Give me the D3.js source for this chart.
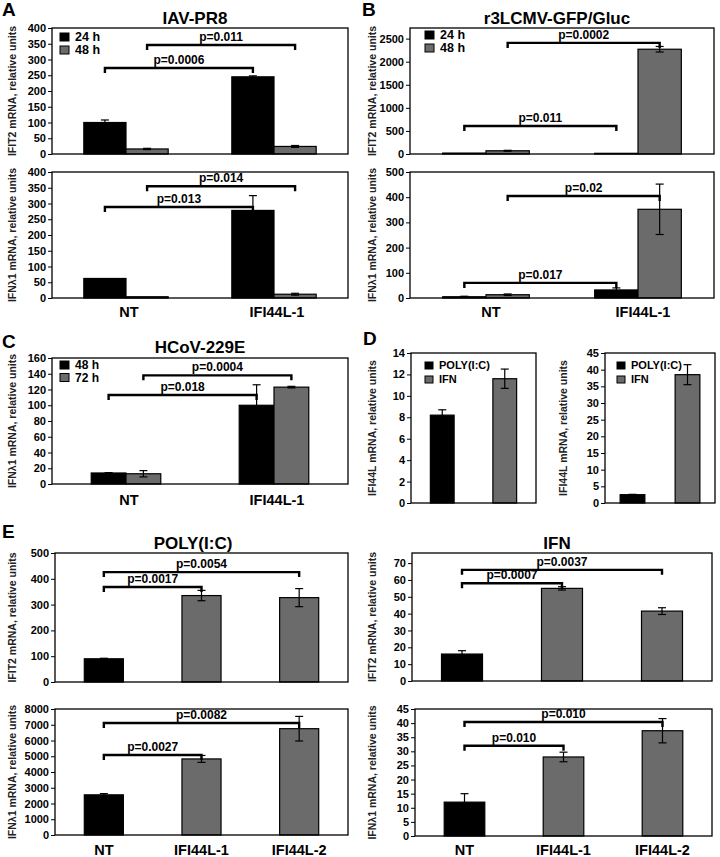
<!DOCTYPE html>
<html><head><meta charset="utf-8">
<script src="https://cdn.jsdelivr.net/npm/d3@7"></script>
<style>body{margin:0;background:#fff} svg text{font-family:"Liberation Sans",Arial,sans-serif;font-weight:bold}</style>
</head><body><svg id="c" width="720" height="857"></svg>
<script>
// ---------- data ----------
const catsTwo = ["NT", "IFI44L-1"];
const catsThree = ["NT", "IFI44L-1", "IFI44L-2"];
const seriesAB = ["24 h", "48 h"];
const seriesC = ["48 h", "72 h"];
const seriesD = ["POLY(I:C)", "IFN"];

// Panel A (IAV-PR8)
const aIfit2_24 = [100, 245], aIfit2_24Err = [8, 3];
const aIfit2_48 = [16, 24], aIfit2_48Err = [2, 3];
const aIfn_24 = [62, 278], aIfn_24Err = [0, 47];
const aIfn_48 = [4, 12], aIfn_48Err = [0, 3];
const aIfit2Brackets = [{p: "p=0.0006", from: [0, 0], to: [1, 0], level: 273}, {p: "p=0.011", from: [0, 1], to: [1, 1], level: 346}];
const aIfnBrackets = [{p: "p=0.013", from: [0, 0], to: [1, 0], level: 289}, {p: "p=0.014", from: [0, 1], to: [1, 1], level: 355}];

// Panel B (r3LCMV-GFP/Gluc)
const bIfit2_24 = [20, 15], bIfit2_24Err = [0, 0];
const bIfit2_48 = [70, 2270], bIfit2_48Err = [10, 60];
const bIfn_24 = [5, 32], bIfn_24Err = [2, 8];
const bIfn_48 = [13, 352], bIfn_48Err = [3, 100];
const bIfit2Brackets = [{p: "p=0.011", from: [0, 0], to: [1, 0], level: 607}, {p: "p=0.0002", from: [0, 1], to: [1, 1], level: 2407}];
const bIfnBrackets = [{p: "p=0.017", from: [0, 0], to: [1, 0], level: 60}, {p: "p=0.02", from: [0, 1], to: [1, 1], level: 405}];

// Panel C (HCoV-229E)
const cIfn_48 = [14, 100], cIfn_48Err = [0.5, 26];
const cIfn_72 = [13, 123], cIfn_72Err = [4, 1];
const cBrackets = [{p: "p=0.018", from: [0, 0], to: [1, 0], level: 113}, {p: "p=0.0004", from: [0, 1], to: [1, 1], level: 138}];

// Panel D
const dLeft = [8.2, 11.6], dLeftErr = [0.5, 0.9];
const dRight = [2.5, 38.5], dRightErr = [0.1, 3];

// Panel E
const ePolyIfit2 = [90, 335, 327], ePolyIfit2Err = [2, 20, 35];
const ePolyIfn = [2550, 4830, 6750], ePolyIfnErr = [80, 220, 780];
const eIfnIfit2 = [16, 55, 41.5], eIfnIfit2Err = [2, 1, 2];
const eIfnIfn = [12, 28, 37.3], eIfnIfnErr = [3, 1.7, 4.3];
const ePolyIfit2Brackets = [{p: "p=0.0017", from: [0, 0], to: [1, 0], level: 368}, {p: "p=0.0054", from: [0, 0], to: [2, 0], level: 426}];
const ePolyIfnBrackets = [{p: "p=0.0027", from: [0, 0], to: [1, 0], level: 5080}, {p: "p=0.0082", from: [0, 0], to: [2, 0], level: 7111}];
const eIfnIfit2Brackets = [{p: "p=0.0007", from: [0, 0], to: [1, 0], level: 58}, {p: "p=0.0037", from: [0, 0], to: [2, 0], level: 66}];
const eIfnIfnBrackets = [{p: "p=0.010", from: [0, 0], to: [1, 0], level: 32}, {p: "p=0.010", from: [0, 0], to: [2, 0], level: 40.4}];

// ---------- drawing ----------
const BLACK = "#000", GRAY = "#6b6b6b";
const svg = d3.select("#c");

function panel(cfg) {
  const [x0, y0, x1, y1] = cfg.frame;
  const g = svg.append("g");
  const x = d3.scaleBand().domain(cfg.cats).range([x0, x1]);
  const y = d3.scaleLinear().domain([0, cfg.max]).range([y1, y0]);
  const nS = cfg.series.length;
  const gw = x.bandwidth() * cfg.group;
  const xs = d3.scaleBand().domain(d3.range(nS)).range([-gw / 2, gw / 2]);
  const barCenter = (ci, si) => x(cfg.cats[ci]) + x.bandwidth() / 2 + xs(si) + xs.bandwidth() / 2;

  cfg.series.forEach((s, si) => {
    cfg.cats.forEach((c, ci) => {
      const col = Array.isArray(s.c) ? s.c[ci] : s.c;
      const bx = x(c) + x.bandwidth() / 2 + xs(si);
      g.append("rect").attr("x", bx).attr("y", y(s.v[ci])).attr("width", xs.bandwidth())
        .attr("height", y(0) - y(s.v[ci])).attr("fill", col).attr("stroke", "#000").attr("stroke-width", 1.2);
    });
  });
  cfg.series.forEach((s, si) => {
    cfg.cats.forEach((c, ci) => {
      const e = s.e[ci];
      if (!e) return;
      const cx = barCenter(ci, si);
      const yt = y(s.v[ci] + e), yb = y(Math.max(0, s.v[ci] - e));
      g.append("line").attr("x1", cx).attr("x2", cx).attr("y1", yt).attr("y2", yb).attr("stroke", "#000").attr("stroke-width", 1.2);
      [yt, yb].forEach(yy => g.append("line").attr("x1", cx - 4).attr("x2", cx + 4).attr("y1", yy).attr("y2", yy).attr("stroke", "#000").attr("stroke-width", 1.2));
    });
  });
  g.append("rect").attr("x", x0).attr("y", y0).attr("width", x1 - x0).attr("height", y1 - y0)
    .attr("fill", "none").attr("stroke", "#000").attr("stroke-width", 1.3);
  const ax = g.append("g").attr("transform", `translate(${x0},0)`)
    .call(d3.axisLeft(y).tickValues(d3.range(0, cfg.tickMax + 1e-9, cfg.tickStep)).tickSize(4).tickPadding(2).tickFormat(d3.format("d")));
  ax.select(".domain").remove();
  ax.selectAll("text").attr("font-size", 11).attr("fill", "#000").style("font-family", "'Liberation Sans',Arial,sans-serif").style("font-weight", "bold");
  ax.selectAll("line").attr("stroke", "#000");
  g.append("text").attr("transform", `translate(${cfg.yLabelX},${(y0 + y1) / 2}) rotate(-90)`)
    .attr("text-anchor", "middle").attr("dominant-baseline", "central").attr("font-size", 10.5).attr("fill", "#222").text(cfg.yLabel);
  (cfg.brackets || []).forEach(b => {
    const xa = barCenter(b.from[0], b.from[1]), xb = barCenter(b.to[0], b.to[1]);
    const yy = y(b.level);
    g.append("path").attr("d", `M${xa},${yy + 5}V${yy}H${xb}V${yy + 5}`).attr("fill", "none").attr("stroke", "#000").attr("stroke-width", 2.4);
    g.append("text").attr("x", (xa + xb) / 2).attr("y", yy - 4).attr("text-anchor", "middle").attr("font-size", 12).attr("fill", "#000").text(b.p);
  });
  if (cfg.legend) {
    const L = cfg.legend;
    L.names.forEach((n, i) => {
      const lx = x0 + L.dx, ly = y0 + L.dy + i * L.gap;
      g.append("rect").attr("x", lx).attr("y", ly).attr("width", L.size).attr("height", L.size - 1)
        .attr("fill", L.colors[i]).attr("stroke", "#000").attr("stroke-width", 1);
      g.append("text").attr("x", lx + L.size + 6).attr("y", ly + L.size - 1).attr("font-size", L.font).attr("fill", "#000").text(n);
    });
  }
  if (cfg.xLabelY) {
    cfg.cats.forEach(c => g.append("text").attr("x", x(c) + x.bandwidth() / 2 + (cfg.xLabelShift || 0)).attr("y", cfg.xLabelY)
      .attr("text-anchor", "middle").attr("font-size", 14.5).attr("fill", "#000").text(c));
  }
}

const twoCol = [BLACK, GRAY];
panel({frame: [52, 28, 348, 154], max: 400, tickStep: 50, tickMax: 400, cats: catsTwo, group: 0.57,
  series: [{v: aIfit2_24, e: aIfit2_24Err, c: BLACK}, {v: aIfit2_48, e: aIfit2_48Err, c: GRAY}],
  brackets: aIfit2Brackets, legend: {names: seriesAB, colors: twoCol, dx: 8, dy: 5, gap: 13, size: 9, font: 12.5},
  yLabel: "IFIT2 mRNA, relative units", yLabelX: 12});
panel({frame: [52, 172, 348, 298], max: 400, tickStep: 50, tickMax: 400, cats: catsTwo, group: 0.57,
  series: [{v: aIfn_24, e: aIfn_24Err, c: BLACK}, {v: aIfn_48, e: aIfn_48Err, c: GRAY}],
  brackets: aIfnBrackets, yLabel: "IFNλ1 mRNA, relative units", yLabelX: 12, xLabelY: 317, xLabelShift: 3});
panel({frame: [410, 28, 714, 154], max: 2730, tickStep: 500, tickMax: 2500, cats: catsTwo, group: 0.57,
  series: [{v: bIfit2_24, e: bIfit2_24Err, c: BLACK}, {v: bIfit2_48, e: bIfit2_48Err, c: GRAY}],
  brackets: bIfit2Brackets, legend: {names: seriesAB, colors: twoCol, dx: 15, dy: 3, gap: 13, size: 9, font: 12.5},
  yLabel: "IFIT2 mRNA, relative units", yLabelX: 372});
panel({frame: [410, 172, 714, 298], max: 500, tickStep: 100, tickMax: 500, cats: catsTwo, group: 0.57,
  series: [{v: bIfn_24, e: bIfn_24Err, c: BLACK}, {v: bIfn_48, e: bIfn_48Err, c: GRAY}],
  brackets: bIfnBrackets, yLabel: "IFNλ1 mRNA, relative units", yLabelX: 372, xLabelY: 317, xLabelShift: 5});
panel({frame: [52, 358, 348, 484], max: 160, tickStep: 20, tickMax: 160, cats: catsTwo, group: 0.47,
  series: [{v: cIfn_48, e: cIfn_48Err, c: BLACK}, {v: cIfn_72, e: cIfn_72Err, c: GRAY}],
  brackets: cBrackets, legend: {names: seriesC, colors: twoCol, dx: 8, dy: 3, gap: 12.5, size: 9, font: 12},
  yLabel: "IFNλ1 mRNA, relative units", yLabelX: 12, xLabelY: 505, xLabelShift: 3});
panel({frame: [411, 353, 536, 503], max: 14, tickStep: 2, tickMax: 14, cats: seriesD, group: 0.38,
  series: [{v: dLeft, e: dLeftErr, c: twoCol}],
  legend: {names: seriesD, colors: twoCol, dx: 14, dy: 9, gap: 14, size: 8, font: 11},
  yLabel: "IFI44L mRNA, relative units", yLabelX: 372});
panel({frame: [605, 353, 715, 503], max: 45, tickStep: 5, tickMax: 45, cats: seriesD, group: 0.45,
  series: [{v: dRight, e: dRightErr, c: twoCol}],
  legend: {names: seriesD, colors: twoCol, dx: 12, dy: 9, gap: 14, size: 8, font: 11},
  yLabel: "IFI44L mRNA, relative units", yLabelX: 563});
panel({frame: [55, 553, 348, 682], max: 500, tickStep: 100, tickMax: 500, cats: catsThree, group: 0.4,
  series: [{v: ePolyIfit2, e: ePolyIfit2Err, c: [BLACK, GRAY, GRAY]}],
  brackets: ePolyIfit2Brackets, yLabel: "IFIT2 mRNA, relative units", yLabelX: 12});
panel({frame: [55, 709, 348, 835], max: 8000, tickStep: 1000, tickMax: 8000, cats: catsThree, group: 0.4,
  series: [{v: ePolyIfn, e: ePolyIfnErr, c: [BLACK, GRAY, GRAY]}],
  brackets: ePolyIfnBrackets, yLabel: "IFNλ1 mRNA, relative units", yLabelX: 12, xLabelY: 855});
panel({frame: [412, 553, 712, 681], max: 76, tickStep: 10, tickMax: 70, cats: catsThree, group: 0.41,
  series: [{v: eIfnIfit2, e: eIfnIfit2Err, c: [BLACK, GRAY, GRAY]}],
  brackets: eIfnIfit2Brackets, yLabel: "IFIT2 mRNA, relative units", yLabelX: 372});
panel({frame: [415, 709, 712, 836], max: 45, tickStep: 5, tickMax: 45, cats: catsThree, group: 0.41,
  series: [{v: eIfnIfn, e: eIfnIfnErr, c: [BLACK, GRAY, GRAY]}],
  brackets: eIfnIfnBrackets, yLabel: "IFNλ1 mRNA, relative units", yLabelX: 372, xLabelY: 855});

const titles = [["IAV-PR8", 195, 24], ["r3LCMV-GFP/Gluc", 557, 24], ["HCoV-229E", 200, 353], ["POLY(I:C)", 193, 549], ["IFN", 557, 549]];
titles.forEach(t => svg.append("text").attr("x", t[1]).attr("y", t[2]).attr("text-anchor", "middle").attr("font-size", 17).text(t[0]));
const letters = [["A", 2, 16], ["B", 362, 16], ["C", 2, 348], ["D", 363, 345], ["E", 2, 538]];
letters.forEach(t => svg.append("text").attr("x", t[1]).attr("y", t[2]).attr("font-size", 19).text(t[0]));
</script></body></html>
